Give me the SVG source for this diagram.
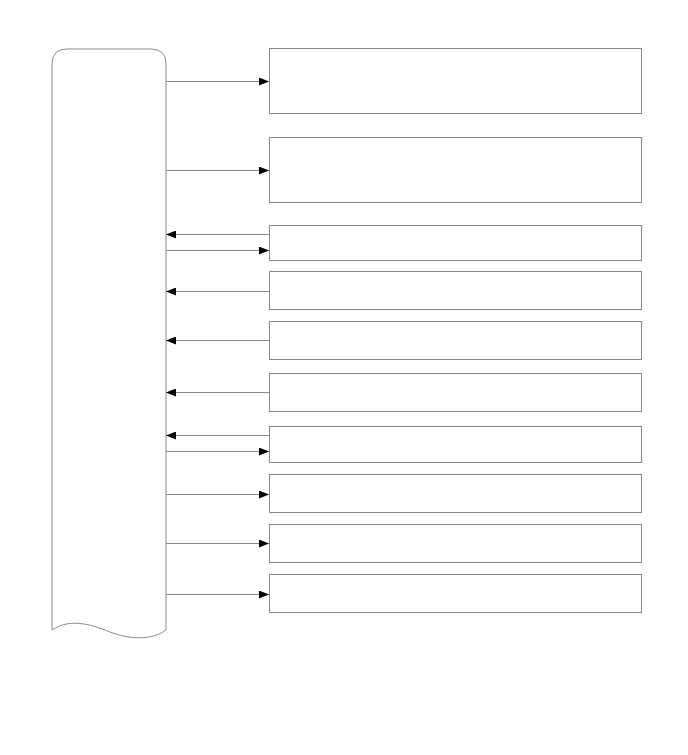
<svg xmlns="http://www.w3.org/2000/svg" width="688" height="755" viewBox="0 0 688 755">
<style>
.box{fill:#fff;stroke:#8a8a8a;stroke-width:1}
.c{stroke:#8a8a8a;stroke-width:1;fill:none;marker-end:url(#ah)}
</style>
<defs>
<marker id="ah" markerWidth="10" markerHeight="8" refX="10" refY="4" orient="auto" markerUnits="userSpaceOnUse">
<path d="M0,0 L10,4 L0,8 Z" fill="#000"/>
</marker>
</defs>
<rect width="688" height="755" fill="#fff"/>
<g id="main">
<path class="box" d="M52,630 L52,64 Q52,49 67,49 L151,49 Q166,49 166,64 L166,630 C150,642 125,638 110,632 C90,624 70,618 52,630 Z"/>
</g>
<g id="n1"><rect class="box" x="269.5" y="48.5" width="372" height="65"/></g>
<g id="n2"><rect class="box" x="269.5" y="137.5" width="372" height="65"/></g>
<g id="n3"><rect class="box" x="269.5" y="225.5" width="372" height="35"/></g>
<g id="n4"><rect class="box" x="269.5" y="271.5" width="372" height="38"/></g>
<g id="n5"><rect class="box" x="269.5" y="321.5" width="372" height="38"/></g>
<g id="n6"><rect class="box" x="269.5" y="373.5" width="372" height="38"/></g>
<g id="n7"><rect class="box" x="269.5" y="426.5" width="372" height="36"/></g>
<g id="n8"><rect class="box" x="269.5" y="474.5" width="372" height="38"/></g>
<g id="n9"><rect class="box" x="269.5" y="524.5" width="372" height="38"/></g>
<g id="n10"><rect class="box" x="269.5" y="574.5" width="372" height="38"/></g>
<g id="connectors">
<line class="c" x1="166" y1="81.5" x2="269" y2="81.5"/>
<line class="c" x1="166" y1="170.5" x2="269" y2="170.5"/>
<line class="c" x1="269" y1="234.5" x2="166" y2="234.5"/>
<line class="c" x1="166" y1="250.5" x2="269" y2="250.5"/>
<line class="c" x1="269" y1="291.5" x2="166" y2="291.5"/>
<line class="c" x1="269" y1="340.5" x2="166" y2="340.5"/>
<line class="c" x1="269" y1="392.5" x2="166" y2="392.5"/>
<line class="c" x1="269" y1="435.5" x2="166" y2="435.5"/>
<line class="c" x1="166" y1="451.5" x2="269" y2="451.5"/>
<line class="c" x1="166" y1="494.5" x2="269" y2="494.5"/>
<line class="c" x1="166" y1="543.5" x2="269" y2="543.5"/>
<line class="c" x1="166" y1="594.5" x2="269" y2="594.5"/>
</g>
</svg>
